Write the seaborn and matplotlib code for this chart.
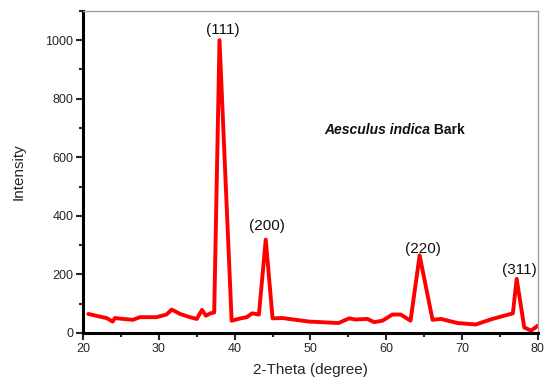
import pandas as pd
import matplotlib
matplotlib.use('Agg')
import matplotlib.pyplot as plt
import seaborn as sns
from matplotlib.ticker import MultipleLocator

# XRD pattern values
two_theta = [20.7, 22.2, 23.1, 23.9, 24.2, 25.3, 26.6, 27.5, 29.7, 31.0, 31.7, 32.8,
             34.1, 35.0, 35.7, 36.2, 36.8, 37.3, 38.0, 39.6, 40.8, 41.6, 42.3,
             43.2, 44.1, 45.0, 46.3, 49.8, 53.7, 55.1, 55.9, 57.5, 58.4, 59.5, 60.8,
             61.9, 63.2, 64.4, 66.1, 67.2, 69.4, 71.8, 74.0, 76.7, 77.2, 78.2, 79.1, 80.0]
intensity = [65, 56, 51, 39, 51, 48, 45, 54, 54, 63, 80, 65,
             54, 48, 79, 59, 67, 70, 1000, 42, 50, 54, 67,
             63, 319, 50, 51, 39, 34, 50, 46, 48, 37, 42, 63,
             63, 42, 265, 45, 48, 34, 29, 48, 67, 185, 19, 8, 25]

peak_labels = ['(111)', '(200)', '(220)', '(311)']
peak_x = [38.5, 44.2, 64.8, 77.5]
peak_y = [1034, 366, 288, 216]

df = pd.DataFrame({'2theta': two_theta, 'I': intensity})

sns.set_style('white')
plt.rcParams['font.family'] = ['Liberation Sans', 'DejaVu Sans']

fig = plt.figure(figsize=(5.5, 3.89), dpi=100)
ax = fig.add_axes([0.151, 0.144, 0.827, 0.828])

sns.lineplot(data=df, x='2theta', y='I', color='#ff0000', linewidth=2.8, ax=ax)

for lab, px, py in zip(peak_labels, peak_x, peak_y):
    ax.text(px, py, lab, ha='center', va='center', fontsize=11, color='#111111')

# sample name: italic bold species + bold "Bark"
t = ax.text(51.8, 692, 'Aesculus indica', ha='left', va='center',
            fontsize=10, fontweight='bold', fontstyle='italic', color='#111111')
ax.annotate(' Bark', xy=(1, 0.5), xycoords=t, ha='left', va='center',
            fontsize=10, fontweight='bold', color='#111111')

ax.set_xlim(20, 80)
ax.set_ylim(0, 1100)
ax.xaxis.set_major_locator(MultipleLocator(10))
ax.xaxis.set_minor_locator(MultipleLocator(5))
ax.yaxis.set_major_locator(MultipleLocator(200))
ax.yaxis.set_minor_locator(MultipleLocator(100))
ax.tick_params(which='major', direction='out', length=5, width=1.5, labelsize=9, pad=2,
               bottom=True, left=True)
ax.tick_params(which='minor', direction='out', length=3, width=1.5, bottom=True, left=True)

for s in ['left', 'bottom']:
    ax.spines[s].set_linewidth(2.2)
    ax.spines[s].set_color('black')
for s in ['top', 'right']:
    ax.spines[s].set_linewidth(1.0)
    ax.spines[s].set_color('#a0a0a0')

ax.set_xlabel('2-Theta (degree)', fontsize=11, labelpad=6)
ax.set_ylabel('Intensity', fontsize=11, labelpad=14)

plt.savefig('out.png', dpi=100)
